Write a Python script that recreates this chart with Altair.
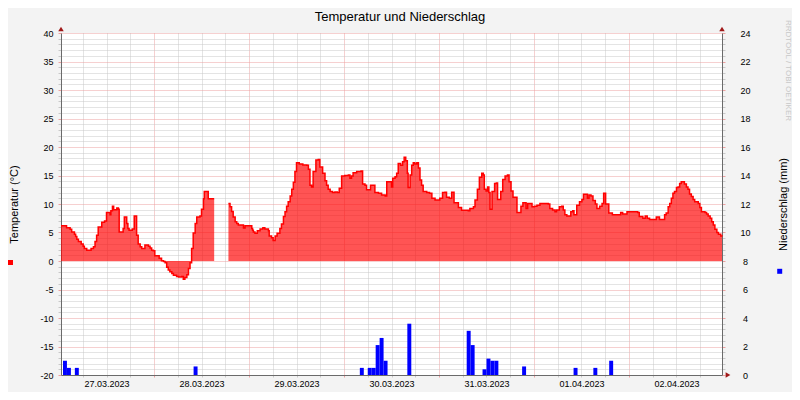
import altair as alt
import pandas as pd

TITLE = "Temperatur und Niederschlag"
Y_LEFT_TITLE = "Temperatur (°C)"
Y_RIGHT_TITLE = "Niederschlag (mm)"
WATERMARK = "RRDTOOL / TOBI OETIKER"
DAY_LABELS = ["27.03.2023", "28.03.2023", "29.03.2023", "30.03.2023",
              "31.03.2023", "01.04.2023", "02.04.2023"]

# Temperature, hours after 27.03.2023 00:00 -> °C (two segments, gap of missing data between)
T1_HOURS = [0.5, 1.9, 2.8, 3.2, 3.9, 4.2, 4.5, 4.9, 5.6, 6.1,
            6.4, 7.0, 8.1, 8.7, 9.1, 9.5, 9.9, 10.8, 11.5, 12.0,
            12.9, 13.1, 13.5, 13.8, 14.6, 15.0, 15.2, 16.2, 16.5, 17.1,
            17.4, 17.7, 18.5, 19.0, 19.6, 20.0, 20.5, 20.9, 21.7, 22.6,
            23.0, 23.4, 23.8, 24.2, 25.3, 25.9, 26.4, 26.8, 27.2, 27.6,
            28.0, 28.5, 28.9, 29.7, 30.2, 31.0, 31.4, 31.8, 32.3, 32.7,
            33.1, 33.5, 33.9, 34.4, 34.8, 35.6, 36.0, 36.5, 36.7, 37.7,
            39.2]
T1_VALUES = [6.2, 5.85, 5.55, 5.1, 4.7, 4.3, 3.8, 3.4, 3.0, 2.6,
             2.2, 1.9, 2.2, 2.5, 3.4, 4.5, 5.95, 6.8, 7.0, 8.5,
             8.1, 8.8, 9.6, 9.0, 9.3, 9.1, 5.1, 5.7, 7.7, 6.6,
             5.7, 5.4, 5.6, 7.9, 4.5, 3.0, 2.5, 2.2, 2.8, 2.6,
             2.3, 1.9, 1.8, 0.9, 0.5, 0.05, -0.1, -0.3, -1.1, -1.6,
             -1.9, -2.2, -2.5, -2.7, -2.8, -2.7, -3.2, -2.9, -2.4, -1.3,
             -0.3, 2.2, 4.9, 6.6, 7.7, 7.9, 9.1, 10.9, 12.2, 10.9,
             10.9]

T2_HOURS = [42.8, 43.2, 43.6, 44.0, 44.5, 44.9, 45.3, 46.6, 47.0, 48.7,
            48.9, 49.1, 49.5, 50.1, 50.8, 51.5, 52.0, 52.9, 53.1, 53.7,
            54.1, 54.6, 55.1, 55.8, 56.2, 56.7, 57.1, 57.5, 57.9, 58.4,
            58.8, 59.2, 59.6, 60.0, 60.7, 61.6, 62.6, 63.0, 63.4, 63.8,
            64.2, 64.9, 65.5, 65.9, 66.6, 67.2, 67.6, 68.0, 68.5, 69.1,
            69.7, 70.3, 70.8, 71.4, 72.2, 73.1, 73.5, 73.9, 74.3, 75.2,
            76.3, 76.7, 77.3, 77.7, 78.7, 79.8, 80.7, 81.5, 82.4, 82.8,
            84.0, 84.3, 84.9, 85.3, 85.7, 86.3, 86.8, 87.2, 87.6, 88.0,
            88.2, 88.7, 89.1, 89.5, 89.9, 90.4, 90.8, 91.2, 91.6, 92.0,
            92.9, 93.6, 94.2, 95.0, 96.2, 96.9, 97.5, 97.9, 98.6, 99.2,
            99.8, 100.9, 101.7, 103.4, 103.8, 104.7, 105.1, 105.7, 106.2, 106.8,
            107.2, 107.45, 107.9, 108.3, 108.6, 108.9, 109.4, 110.05, 110.5, 110.8,
            111.6, 112.1, 112.7, 113.3, 113.7, 114.2, 114.7, 115.7, 116.7, 117.2,
            118.0, 118.4, 119.5, 120.1, 120.75, 121.5, 123.6, 124.0, 124.7, 125.3,
            125.7, 126.4, 127.0, 127.4, 127.8, 128.3, 129.3, 129.8, 130.1, 130.8,
            131.5, 132.1, 132.5, 133.5, 133.9, 134.4, 134.9, 135.5, 135.9, 136.6,
            137.2, 137.6, 138.1, 138.9, 139.8, 141.9, 142.4, 143.5, 146.2, 146.6,
            147.5, 148.1, 148.6, 149.2, 150.9, 151.7, 153.0, 153.4, 153.9, 154.3,
            154.7, 155.1, 155.5, 156.0, 156.4, 156.8, 157.2, 158.0, 158.5, 158.9,
            159.3, 159.75, 160.2, 160.6, 161.5, 161.9, 162.3, 163.2, 163.6, 164.0,
            164.5, 164.9, 165.3, 165.7, 166.2, 166.6, 167.2, 167.5]
T2_VALUES = [10.1, 9.5, 8.7, 7.7, 6.9, 6.6, 6.3, 5.8, 6.2, 5.7,
             5.4, 5.1, 4.85, 5.3, 5.6, 5.85, 5.6, 5.3, 4.4, 4.1,
             3.6, 4.4, 4.85, 5.7, 6.5, 7.8, 8.65, 9.6, 10.4, 11.4,
             12.6, 13.8, 15.7, 17.25, 17.0, 16.85, 16.8, 16.1, 13.3, 13.0,
             15.7, 17.7, 17.8, 16.5, 15.4, 14.1, 13.3, 12.6, 12.2, 12.0,
             12.1, 12.0, 12.75, 14.9, 15.0, 15.1, 14.5, 14.9, 15.5, 15.7,
             15.8, 13.5, 13.3, 12.5, 13.3, 12.0, 11.9, 11.6, 11.4, 13.9,
             13.0, 14.5, 14.8, 15.4, 17.1, 16.8, 17.4, 18.2, 17.6, 15.4,
             12.9, 15.1, 16.8, 17.25, 17.0, 17.25, 16.3, 14.2, 13.3, 12.2,
             12.0, 11.9, 11.0, 10.7, 11.0, 12.0, 12.05, 11.2, 11.0, 12.05,
             10.2, 9.4, 8.9, 8.8, 9.2, 9.5, 10.7, 12.6, 14.7, 15.4,
             15.1, 12.6, 12.3, 13.0, 12.0, 9.1, 12.2, 13.6, 13.7, 10.8,
             12.2, 14.3, 14.9, 15.1, 13.9, 12.3, 11.2, 8.5, 9.6, 10.2,
             9.2, 10.1, 9.5, 9.6, 9.8, 10.1, 10.0, 9.2, 8.95, 8.65,
             8.95, 9.5, 9.6, 8.95, 8.1, 7.9, 8.65, 8.8, 8.1, 9.8,
             10.4, 10.8, 11.7, 11.0, 11.6, 11.4, 10.6, 10.0, 9.2, 9.6,
             10.1, 11.9, 10.0, 8.4, 8.1, 8.5, 8.25, 8.65, 8.5, 7.8,
             7.5, 7.9, 7.5, 7.3, 7.7, 7.3, 8.1, 8.4, 9.5, 10.1,
             11.0, 11.9, 12.2, 12.9, 13.0, 13.6, 13.9, 13.5, 13.0, 12.6,
             11.75, 11.3, 10.8, 10.4, 10.1, 9.4, 8.65, 8.5, 8.25, 7.9,
             7.5, 6.9, 6.3, 5.55, 5.0, 4.7, 4.4, 4.3]

# Precipitation, hourly sums: start hour after 27.03.2023 00:00 -> mm
RAIN_HOURS = [1, 2, 4, 34, 76, 78, 79, 80, 81, 82, 88, 103, 104,
              107, 108, 109, 110, 117, 130, 135, 139]
RAIN_MM = [1.0, 0.5, 0.5, 0.6, 0.5, 0.5, 0.5, 2.1, 2.6, 1.0, 3.6, 3.1, 2.1,
           0.4, 1.15, 1.0, 1.0, 0.6, 0.5, 0.5, 1.0]

assert len(T1_HOURS) == len(T1_VALUES)
assert len(T2_HOURS) == len(T2_VALUES)
assert len(RAIN_HOURS) == len(RAIN_MM)

temp_df = pd.concat([
    pd.DataFrame({"h": T1_HOURS, "t": T1_VALUES, "seg": 1}),
    pd.DataFrame({"h": T2_HOURS, "t": T2_VALUES, "seg": 2}),
], ignore_index=True)
rain_df = pd.DataFrame({"h": RAIN_HOURS, "mm": RAIN_MM})
rain_df["h2"] = rain_df["h"] + 1

FONT = "Liberation Sans"
GRID_MINOR = "#c8c8c8"
GRID_MAJOR = "#eda0a0"
AXIS_COL = "#6a6a6a"
ARROW_COL = "#a01818"

PLOT_W, PLOT_H = 661, 342

x_scale = alt.Scale(domain=[0.5, 167.5], nice=False, zero=False)
y_scale = alt.Scale(domain=[-20, 40], nice=False, zero=False)
r_scale = alt.Scale(domain=[0, 24], nice=False, zero=False)

# tick / grid positions (hours, °C, mm)
X_MINOR = [h for h in range(6, 167, 6) if h % 24]
X_MAJOR = list(range(24, 167, 24))
X_NOON = [12 + 24 * i for i in range(len(DAY_LABELS))]
Y_MINOR = [v for v in range(-20, 41) if v % 5]
Y_MAJOR = list(range(-20, 41, 5))
R_MAJOR = list(range(0, 25, 2))
R_MINOR = [round(0.4 * i, 1) for i in range(61) if i % 5]


def grid_axis(orient, values, color, tick_size, grid=True):
    return alt.Axis(
        orient=orient, values=values, grid=grid, gridColor=color,
        gridDash=[1, 1], gridWidth=1, domain=False, ticks=True,
        tickSize=tick_size, tickColor=color, labels=False, title="",
    )


x_label_expr = ""
for pos, lab in zip(X_NOON, DAY_LABELS):
    x_label_expr += "datum.value === %d ? '%s' : " % (pos, lab)
x_label_expr += "''"

x_label_axis = alt.Axis(
    orient="bottom", values=X_NOON, grid=False,
    domain=True, domainColor=AXIS_COL, domainWidth=1, ticks=False,
    labelExpr=x_label_expr, labelFont=FONT, labelFontSize=9, labelColor="black",
    labelPadding=4, labelOverlap=False, labelFlush=False, labelAngle=0,
    title="",
)

y_major_axis = alt.Axis(
    orient="left", values=Y_MAJOR, grid=True, gridColor=GRID_MAJOR,
    gridDash=[1, 1], gridWidth=1,
    domain=True, domainColor=AXIS_COL, domainWidth=1,
    ticks=True, tickSize=3, tickColor=GRID_MAJOR,
    labelExpr="'' + datum.value",
    labelFont=FONT, labelFontSize=9, labelColor="black", labelPadding=5,
    labelOverlap=False, labelFlush=False,
    title=Y_LEFT_TITLE, titleFont=FONT, titleFontSize=11, titleFontWeight="normal",
    titleColor="black", titleAngle=270, titleX=-44, titleY=PLOT_H / 2,
    titleAlign="center", titleBaseline="alphabetic",
)

r_major_axis = alt.Axis(
    orient="right", values=R_MAJOR, grid=False,
    domain=True, domainColor=AXIS_COL, domainWidth=1,
    ticks=True, tickSize=3, tickColor=GRID_MAJOR,
    labelExpr="'' + datum.value",
    labelFont=FONT, labelFontSize=9, labelColor="black", labelPadding=20,
    labelAlign="center", labelOverlap=False, labelFlush=False,
    title=Y_RIGHT_TITLE, titleFont=FONT, titleFontSize=11, titleFontWeight="normal",
    titleColor="black", titleAngle=270, titleX=64, titleY=PLOT_H / 2,
    titleAlign="center", titleBaseline="alphabetic",
)

# invisible carrier layers that only draw grids and ticks
grid_minor = alt.Chart(temp_df).mark_point(opacity=0, size=1).encode(
    x=alt.X("h:Q", scale=x_scale, axis=grid_axis("bottom", X_MINOR, GRID_MINOR, 2)),
    y=alt.Y("t:Q", scale=y_scale, axis=grid_axis("left", Y_MINOR, GRID_MINOR, 3)),
)
grid_major = alt.Chart(temp_df).mark_point(opacity=0, size=1).encode(
    x=alt.X("h:Q", scale=x_scale, axis=grid_axis("bottom", X_MAJOR, GRID_MAJOR, 2)),
    y=alt.Y("t:Q", scale=y_scale, axis=y_major_axis),
)
r_minor = alt.Chart(rain_df).mark_point(opacity=0, size=1).encode(
    x=alt.X("h:Q", scale=x_scale, axis=None),
    y=alt.Y("mm:Q", scale=r_scale, axis=grid_axis("right", R_MINOR, GRID_MINOR, 3, grid=False)),
)

area = alt.Chart(temp_df).mark_area(
    interpolate="step-after", fill="#ff0000", fillOpacity=0.67
).encode(
    x=alt.X("h:Q", scale=x_scale, axis=x_label_axis),
    y=alt.Y("t:Q", scale=y_scale, axis=None, stack=None),
    detail="seg:N",
)

line = alt.Chart(temp_df).mark_line(
    interpolate="step-after", color="#ff0000", strokeWidth=1.5
).encode(
    x=alt.X("h:Q", scale=x_scale, axis=None),
    y=alt.Y("t:Q", scale=y_scale, axis=None),
    detail="seg:N",
)

bars = alt.Chart(rain_df).mark_rect(color="#0000ff", opacity=1).encode(
    x=alt.X("h:Q", scale=x_scale, axis=None),
    x2="h2",
    y=alt.Y("mm:Q", scale=r_scale, axis=r_major_axis),
    y2=alt.datum(0),
)

one = pd.DataFrame({"k": [0]})


def marker(shape, px, py, color, size):
    return alt.Chart(one).mark_point(
        shape=shape, filled=True, size=size, color=color, opacity=1
    ).encode(x=alt.value(px), y=alt.value(py))


arrow_left = marker("triangle-up", 0, -4, ARROW_COL, 30)
arrow_right = marker("triangle-up", PLOT_W, -4, ARROW_COL, 30)
arrow_x = marker("triangle-right", PLOT_W + 6, PLOT_H, ARROW_COL, 30)
legend_temp = marker("square", -50.5, 229.5, "#ff0000", 25)
legend_rain = marker("square", 718.7, 238.3, "#0000ff", 25)

title_text = alt.Chart(one).mark_text(
    text=TITLE, align="center", baseline="alphabetic", font=FONT,
    fontSize=13, color="black"
).encode(x=alt.value(339), y=alt.value(-12))

watermark = alt.Chart(one).mark_text(
    text=WATERMARK, angle=90, align="left", baseline="middle", font=FONT,
    fontSize=8, color="#c8c8c8"
).encode(x=alt.value(727), y=alt.value(-13))

chart = alt.layer(
    grid_minor, grid_major, r_minor, area, line, bars,
    arrow_left, arrow_right, arrow_x, legend_temp, legend_rain,
    title_text, watermark
).resolve_scale(y="independent").resolve_axis(
    x="independent", y="independent"
).properties(
    width=PLOT_W, height=PLOT_H,
    autosize=alt.AutoSizeParams(type="none"),
    padding={"left": 53, "top": 25, "right": 70, "bottom": 17},
    background="#f3f3f3",
).configure_view(fill="white", strokeWidth=0)

chart.save("out.html", embed_options={"renderer": "svg", "actions": False})
